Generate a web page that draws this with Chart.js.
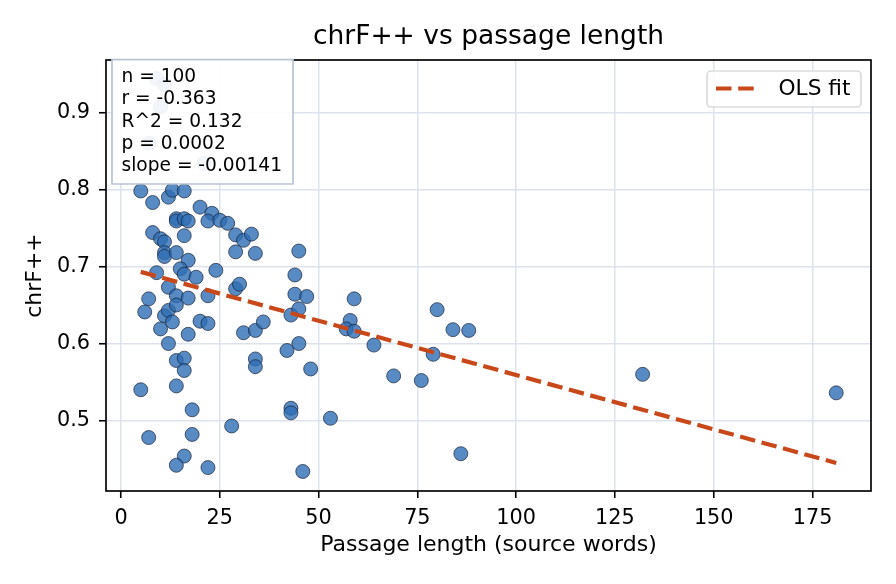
<!DOCTYPE html>
<html>
<head>
<meta charset="utf-8">
<script src="https://cdn.jsdelivr.net/npm/chart.js@4/dist/chart.umd.min.js"></script>
<style>
  html, body { margin: 0; padding: 0; background: #ffffff; }
  #wrap { width: 896px; height: 584px; }
</style>
</head>
<body>
<div id="wrap"><canvas id="c" width="896" height="584"></canvas></div>
<script>
// ---- data ----
const passageWords = [9, 11, 10, 7, 21, 5, 8, 12, 13, 16, 20, 23, 22, 25, 27, 14, 14, 16, 17, 8,
  10, 11, 16, 29, 31, 33, 29, 34, 11, 11, 14, 17, 15, 16, 9, 19, 24, 12, 14, 17,
  7, 22, 29, 30, 45, 6, 11, 12, 14, 13, 10, 17, 20, 22, 12, 14, 16, 16, 5, 14,
  18, 31, 34, 36, 34, 34, 42, 43, 43, 43, 7, 18, 16, 14, 22, 28, 46, 53, 44, 44,
  47, 45, 59, 58, 57, 59, 45, 48, 64, 69, 76, 79, 80, 84, 88, 86, 132, 181];
const chrfScores = [0.944, 0.936, 0.907, 0.860, 0.834, 0.798, 0.783, 0.790, 0.799, 0.798,
  0.777, 0.769, 0.759, 0.760, 0.756, 0.762, 0.759, 0.762, 0.759, 0.744,
  0.736, 0.732, 0.740, 0.741, 0.734, 0.742, 0.719, 0.717, 0.718, 0.713,
  0.718, 0.708, 0.697, 0.690, 0.692, 0.686, 0.695, 0.673, 0.662, 0.659,
  0.658, 0.662, 0.671, 0.677, 0.720, 0.641, 0.636, 0.643, 0.650, 0.628,
  0.619, 0.612, 0.629, 0.626, 0.600, 0.578, 0.581, 0.565, 0.540, 0.545,
  0.514, 0.614, 0.617, 0.628, 0.580, 0.570, 0.591, 0.637, 0.516, 0.510,
  0.478, 0.482, 0.454, 0.442, 0.439, 0.493, 0.434, 0.503, 0.689, 0.664,
  0.661, 0.645, 0.658, 0.630, 0.619, 0.616, 0.600, 0.567, 0.598, 0.558,
  0.552, 0.586, 0.644, 0.618, 0.617, 0.457, 0.560, 0.536];
const fitX = [5, 181];
const fitY = [0.693, 0.445];
const xTickValues = [0, 25, 50, 75, 100, 125, 150, 175];
const yTickValues = [0.5, 0.6, 0.7, 0.8, 0.9];
const statsLines = ['n = 100', 'r = -0.363', 'R^2 = 0.132', 'p = 0.0002', 'slope = -0.00141'];
const titleText = 'chrF++ vs passage length';
const xLabel = 'Passage length (source words)';
const yLabel = 'chrF++';
const legendLabel = 'OLS fit';

// ---- styles ----
const FONT = "'DejaVu Sans', sans-serif";
const POINT_FILL = 'rgba(46,110,180,0.8)';
const POINT_EDGE = 'rgba(20,30,50,0.85)';
const FIT_COLOR = '#c9481a';
const GRID = '#dde3ec';
const FIT_DASH = [15.5, 6.7];

const scatterPoints = passageWords.map((x, i) => ({ x: x, y: chrfScores[i] }));
const fitPoints = fitX.map((x, i) => ({ x: x, y: fitY[i] }));

const framePlugin = {
  id: 'frame',
  afterDatasetsDraw(chart) {
    const { ctx, chartArea: a } = chart;
    ctx.save();
    ctx.strokeStyle = '#000';
    ctx.lineWidth = 1.67;
    ctx.strokeRect(a.left, a.top, a.right - a.left, a.bottom - a.top);
    ctx.restore();
  },
  afterDraw(chart) {
    const { ctx, chartArea: a } = chart;
    // title centred over the plot area
    ctx.save();
    ctx.fillStyle = '#000';
    ctx.font = '26.5px ' + FONT;
    ctx.textAlign = 'center';
    ctx.textBaseline = 'middle';
    ctx.fillText(titleText, (a.left + a.right) / 2, 37);
    ctx.restore();

    // stats box
    ctx.save();
    ctx.fillStyle = 'rgba(255,255,255,0.92)';
    ctx.strokeStyle = '#b8c4d4';
    ctx.lineWidth = 1.7;
    ctx.beginPath();
    ctx.rect(112, 59.5, 181, 124.5);
    ctx.fill();
    ctx.stroke();
    ctx.fillStyle = '#000';
    ctx.font = '18.6px ' + FONT;
    ctx.textBaseline = 'middle';
    ctx.textAlign = 'left';
    statsLines.forEach((t, i) => ctx.fillText(t, 121.5, 77.5 + i * 22.1));
    ctx.restore();

    // legend box
    ctx.save();
    ctx.fillStyle = 'rgba(255,255,255,0.85)';
    ctx.strokeStyle = '#cccccc';
    ctx.lineWidth = 1.2;
    ctx.beginPath();
    ctx.roundRect(707, 71, 154, 36, 4);
    ctx.fill();
    ctx.stroke();
    ctx.strokeStyle = FIT_COLOR;
    ctx.lineWidth = 4.2;
    ctx.setLineDash(FIT_DASH);
    ctx.beginPath();
    ctx.moveTo(716, 88.5);
    ctx.lineTo(754, 88.5);
    ctx.stroke();
    ctx.setLineDash([]);
    ctx.fillStyle = '#000';
    ctx.font = '21.7px ' + FONT;
    ctx.textBaseline = 'middle';
    ctx.fillText(legendLabel, 778.5, 89);
    ctx.restore();
  }
};

new Chart(document.getElementById('c'), {
  data: {
    datasets: [
      {
        type: 'line',
        label: legendLabel,
        data: fitPoints,
        borderColor: FIT_COLOR,
        borderWidth: 4.2,
        borderDash: FIT_DASH,
        pointRadius: 0,
        fill: false,
        order: 0
      },
      {
        type: 'scatter',
        label: 'passages',
        data: scatterPoints,
        backgroundColor: POINT_FILL,
        borderColor: POINT_EDGE,
        borderWidth: 0.8,
        pointRadius: 7,
        order: 1
      }
    ]
  },
  options: {
    responsive: false,
    animation: false,
    devicePixelRatio: 1,
    layout: { padding: { left: 0, right: 25, top: 60, bottom: 0 } },
    plugins: {
      legend: { display: false },
      tooltip: { enabled: false },
      title: { display: false }
    },
    scales: {
      x: {
        type: 'linear',
        min: -3.8,
        max: 189.8,
        afterFit(s) { s.height = 93; },
        afterBuildTicks(s) { s.ticks = xTickValues.map(v => ({ value: v })); },
        grid: { color: GRID, lineWidth: 1.5, tickColor: '#000', tickLength: 7, tickWidth: 1.6 },
        border: { display: false },
        ticks: { color: '#000', font: { family: FONT, size: 20.8 }, padding: 8, maxRotation: 0, autoSkip: false },
        title: { display: true, text: xLabel, color: '#000', font: { family: FONT, size: 22 }, padding: { top: 0, bottom: 26 } }
      },
      y: {
        type: 'linear',
        min: 0.4086,
        max: 0.968,
        afterFit(s) { s.width = 106; },
        afterBuildTicks(s) { s.ticks = yTickValues.map(v => ({ value: v })); },
        grid: { color: GRID, lineWidth: 1.5, tickColor: '#000', tickLength: 7, tickWidth: 1.6 },
        border: { display: false },
        ticks: { color: '#000', font: { family: FONT, size: 20.8 }, padding: 9, autoSkip: false,
          callback: v => v.toFixed(1) },
        title: { display: true, text: yLabel, color: '#000', font: { family: FONT, size: 22 }, padding: { top: 22, bottom: 0 } }
      }
    }
  },
  plugins: [framePlugin]
});
</script>
</body>
</html>
